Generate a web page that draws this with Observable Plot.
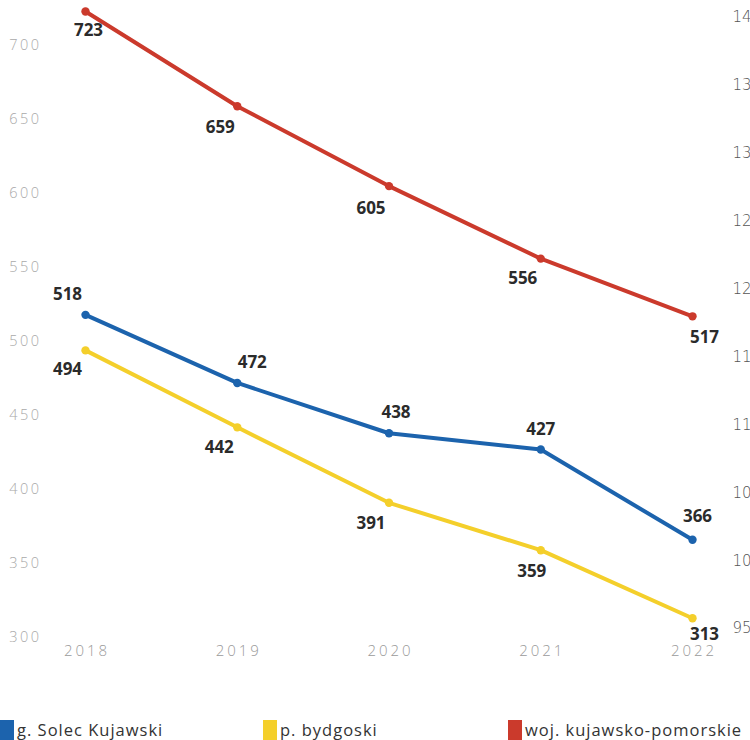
<!DOCTYPE html>
<html>
<head>
<meta charset="utf-8">
<script src="https://cdn.jsdelivr.net/npm/d3@7"></script>
<script src="https://cdn.jsdelivr.net/npm/@observablehq/plot@0.6"></script>
<style>
  html, body { margin: 0; padding: 0; background: #fff; overflow: hidden; width: 750px; height: 740px; }
  #chart { position: relative; width: 750px; height: 740px; }
  #chart g[aria-label="y-axis tick label"] text { letter-spacing: 2.5px; }
  #chart g[aria-label="x-axis tick label"] text { letter-spacing: 3px; }
  .legend { position: absolute; top: 719px; left: 0; width: 750px; height: 21px; font-family: "Open Sans", sans-serif; font-size: 16.5px; letter-spacing: 1px; color: #333; }
  .legend .item { position: absolute; top: 0; display: flex; align-items: center; height: 21px; white-space: nowrap; }
  .legend .sw { width: 14px; height: 20px; margin-right: 3px; }
</style>
</head>
<body>
<div id="chart"></div>
<script>
// ---- data ----
const years = [2018, 2019, 2020, 2021, 2022];
const seriesNames = ["g. Solec Kujawski", "p. bydgoski", "woj. kujawsko-pomorskie"];
const solecKujawski = [518, 472, 438, 427, 366];
const bydgoski = [494, 442, 391, 359, 313];
const kujawskoPomorskie = [723, 659, 605, 556, 517];
const leftTicks = [300, 350, 400, 450, 500, 550, 600, 650, 700];
const rightTicks = [1400, 1350, 1300, 1250, 1200, 1150, 1100, 1050, 1000, 950];
const colors = ["#1c63ad", "#f4cf2b", "#cb3a2c"];

// ---- build table ----
const seriesValues = [solecKujawski, bydgoski, kujawskoPomorskie];
const rows = [];
seriesNames.forEach((name, s) => {
  years.forEach((year, i) => rows.push({series: name, year, value: seriesValues[s][i], i}));
});
const bySeries = name => rows.filter(d => d.series === name);

// secondary (right) axis scale, cropped at the edge of the picture
const rightToLeft = d3.scaleLinear().domain([950, 1400]).range([306, 719]);

// label offsets per series (layout, not data)
const labelOffsets = {
  "g. Solec Kujawski": {dx: [-18, 15, 7, 0, 5], dy: [-20, -20, -21, -20, -23]},
  "p. bydgoski": {dx: [-18, -18, -18, -9, 12], dy: [19, 20, 21, 21, 16]},
  "woj. kujawsko-pomorskie": {dx: [3, -17, -18, -18, 12], dy: [19, 21, 22, 20, 21]}
};

const font = "'Open Sans', sans-serif";

const marks = [];
seriesNames.forEach((name, s) => {
  marks.push(Plot.line(bySeries(name), {x: "year", y: "value", stroke: colors[s], strokeWidth: 4, curve: "linear"}));
  marks.push(Plot.dot(bySeries(name), {x: "year", y: "value", fill: colors[s], r: 4.2}));
});
seriesNames.forEach((name) => {
  const off = labelOffsets[name];
  years.forEach((y, i) => {
    marks.push(Plot.text(bySeries(name).filter(d => d.i === i), {
      x: "year", y: "value", text: d => String(d.value),
      dx: off.dx[i], dy: off.dy[i],
      fill: "#2b2b2b", fontSize: 17, fontWeight: 700, fontFamily: font
    }));
  });
});
marks.push(Plot.axisY(leftTicks, {anchor: "left", label: null, tickSize: 0, tickPadding: 44, fontSize: 14.5, fontFamily: font, fill: "#a9a9a9", fontWeight: 300}));
marks.push(Plot.axisX(years, {anchor: "bottom", label: null, tickSize: 0, tickPadding: 8, tickFormat: d => String(d), fontSize: 15, fontFamily: font, fill: "#9a9a9a", fontWeight: 300, dx: 1.5}));
marks.push(Plot.text(rightTicks, {
  x: () => 2022, y: d => rightToLeft(d), text: d => String(d),
  dx: 40, textAnchor: "start", fontSize: 15, fontFamily: "'DejaVu Sans', sans-serif", fill: "#555", fontWeight: 300
}));

const plot = Plot.plot({
  width: 750,
  height: 718,
  marginTop: 45,
  marginBottom: 81,
  marginLeft: 85,
  marginRight: 58,
  style: {background: "#fff", fontFamily: font},
  x: {domain: [2018, 2022], axis: null},
  y: {domain: [300, 700], axis: null},
  marks
});
const chart = document.getElementById("chart");
chart.appendChild(plot);

const legend = document.createElement("div");
legend.className = "legend";
const legendX = [0, 263, 508];
seriesNames.forEach((name, s) => {
  const item = document.createElement("div");
  item.className = "item";
  item.style.left = legendX[s] + "px";
  const sw = document.createElement("span");
  sw.className = "sw";
  sw.style.background = colors[s];
  const t = document.createElement("span");
  t.textContent = name;
  item.appendChild(sw);
  item.appendChild(t);
  legend.appendChild(item);
});
chart.appendChild(legend);
</script>
</body>
</html>
